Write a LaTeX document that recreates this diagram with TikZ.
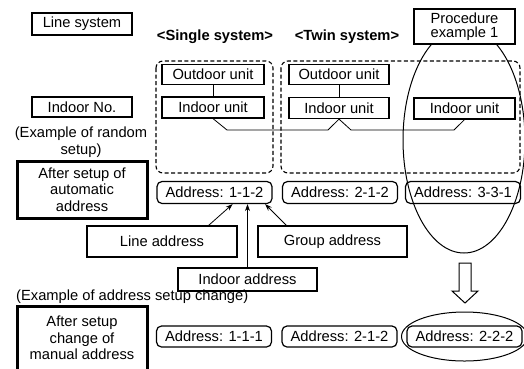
\documentclass[tikz,border=0pt]{standalone}
\usepackage{fontspec}
\setmainfont{Liberation Sans}
\usetikzlibrary{arrows.meta}
\begin{document}
\begin{tikzpicture}[x=1pt,y=-1pt,
  font=\fontsize{14.7}{16.5}\selectfont,
  box/.style={draw, line width=1.2pt, inner sep=0pt, align=center},
  thickbox/.style={draw, line width=3pt, inner sep=0pt, align=center, font=\fontsize{14.7}{16.5}\selectfont},
  addr/.style={draw, line width=1.2pt, rounded corners=5pt, inner sep=0pt, minimum width=115pt, minimum height=22pt},
  dbox/.style={draw, line width=1.1pt, dash pattern=on 4pt off 2.5pt, rounded corners=7pt},
  wire/.style={line width=0.8pt},
  arr/.style={line width=0.8pt, -{Stealth[length=7pt,width=5pt]}},
  ring/.style={draw, line width=1pt},
  lbl/.style={font=\bfseries\fontsize{14.7}{16.5}\selectfont, inner sep=0pt}
]
\useasboundingbox (0,0) rectangle (524,368);
\clip (0,0) rectangle (524,368);

% left column
\node[box, minimum width=100pt, minimum height=22pt] (ls) at (82,24) {Line system};
\node[box, minimum width=100pt, minimum height=20pt] (ino) at (82,107) {Indoor No.};
\node[align=center, inner sep=0pt, font=\fontsize{14.7}{17}\selectfont] (rand) at (81,142) {(Example of random\\setup)};
\node[thickbox, minimum width=130pt, minimum height=57pt] (auto) at (82,189.5) {After setup of\\automatic\\address};

% system labels
\node[lbl] (single) at (215,37) {<Single system>};
\node[lbl] (twin) at (347,37) {<Twin system>};

% dashed system boxes
\draw[dbox] (156,61) rectangle (273,173);
\draw[dbox] (281,61) rectangle (520,173);

% units
\node[box, minimum width=102pt, minimum height=20pt] (sout) at (213,74.5) {Outdoor unit};
\node[box, minimum width=102pt, minimum height=21pt] (sin) at (213,107.5) {Indoor unit};
\node[box, minimum width=100pt, minimum height=20pt] (tout) at (339,74.5) {Outdoor unit};
\node[box, minimum width=100pt, minimum height=21pt] (tin) at (339,108) {Indoor unit};
\node[box, minimum width=101pt, minimum height=21pt] (tin2) at (464.5,108.5) {Indoor unit};

\draw[wire] (sout) -- (sin);
\draw[wire] (tout) -- (tin);

% bus
\coordinate (b1) at (227,130);
\coordinate (b2) at (328,130);
\coordinate (b3) at (351,130);
\coordinate (b4) at (454,130);
\draw[wire] (sin.south) -- (b1) -- (b2) -- (tin.south) -- (b3) -- (b4) -- (tin2.south);

% big ellipse
\draw[ring] (464,140) ellipse [x radius=61, y radius=113];

% procedure box
\node[box, fill=white, minimum width=101pt, minimum height=35pt, font=\fontsize{14.7}{14}\selectfont] (proc) at (464.5,26.5) {Procedure\\example 1};

% addresses (automatic)
\node[addr] (a112) at (214.5,192.5) {Address: 1-1-2};
\node[addr] (a212) at (340,192.5) {Address: 2-1-2};
\node[addr] (a331) at (463,192.5) {Address: 3-3-1};

% address parts
\node[box, minimum width=150pt, minimum height=31pt] (lineaddr) at (162,241.5) {Line address};
\node[box, minimum width=149pt, minimum height=31pt] (grpaddr) at (332.5,241.5) {Group address};
\node[box, minimum width=139pt, minimum height=23pt] (indaddr) at (247.5,279.5) {Indoor address};

\draw[arr] ([xshift=-29pt]lineaddr.north east) -- ([xshift=-40pt]a112.south east);
\draw[arr] (indaddr.north) -- (indaddr.north |- a112.south);
\draw[arr] ([xshift=29pt]grpaddr.north west) -- ([xshift=-7.5pt]a112.south east);

% hollow down arrow
\draw[line width=1pt, line join=miter] (459,263) -- (471,263) -- (471,291) -- (478,291) -- (465,303) -- (452,291) -- (459,291) -- cycle;

% address change
\node[anchor=west, inner sep=0pt] (chg) at (16,297) {(Example of address setup change)};
\node[thickbox, minimum width=130pt, minimum height=64pt] (manual) at (82,338) {After setup\\change of\\manual address};

\node[addr, minimum height=21pt] (a111) at (214,336.5) {Address: 1-1-1};
\node[addr, minimum height=21pt] (a212b) at (339.5,336.5) {Address: 2-1-2};
\node[addr, minimum height=21pt] (a222) at (464.5,336.5) {Address: 2-2-2};
\draw[ring] (a222.center) ellipse [x radius=63, y radius=24.5];
\end{tikzpicture}
\end{document}
